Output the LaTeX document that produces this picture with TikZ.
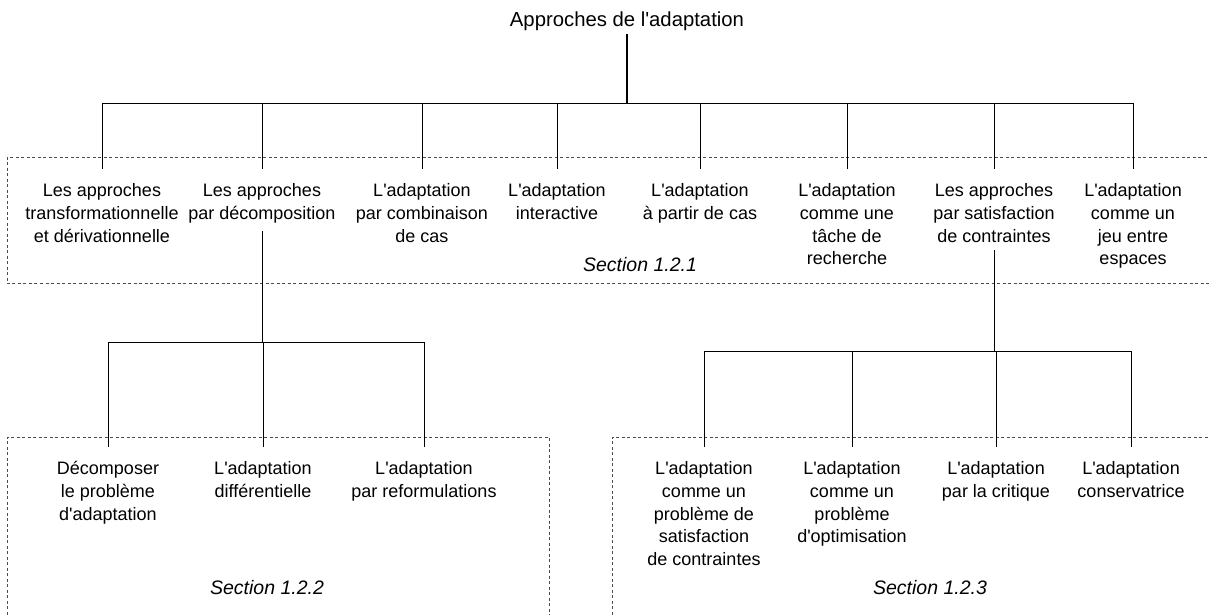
\documentclass[tikz,border=0pt]{standalone}
\usepackage{fontspec}
\newfontfamily\labelfont{Liberation Sans}
\usetikzlibrary{math}
\tikzset{%
  approach/.style={anchor=north, align=center, inner xsep=0pt, inner ysep=14pt,
    font=\labelfont\fontsize{18}{22.9}\selectfont},
  heading/.style={font=\labelfont\fontsize{20.3}{24}\selectfont},
  section label/.style={font=\labelfont\itshape\fontsize{19.5}{23}\selectfont},
  link/.style={line width=0.9pt},
  section box/.style={line width=0.9pt, color=black!70, dash pattern=on 3pt off 2.5pt}
}

\begin{document}
\begin{tikzpicture}[x=1pt,y=-1pt]
    \tikzmath{
      \ybus=103;% main bus
      \yleft=342; \yright=351;% lower buses
      \ytop=169; \ylow=447;% top of the nodes
    }
    \useasboundingbox (0,0) rectangle (1209,614);
    % Dashed frames of the sections.
    \draw[section box] (1212,157) -- (7,157) -- (7,283) -- (1212,283);
    \draw[section box] (7,620) -- (7,437) -- (549,437) -- (549,620);
    \draw[section box] (612,620) -- (612,437) -- (1212,437);
    % Root.
    \node[heading] (root) at (627,21) {Approches de l'adaptation};
    % Section 1.2.1.
    \node[approach] (transfo) at (102,\ytop) {Les approches\\transformationnelle\\et dérivationnelle};
    \node[approach] (decomp) at (262,\ytop) {Les approches\\par décomposition};
    \node[approach] (combin) at (422,\ytop) {L'adaptation\\par combinaison\\de cas};
    \node[approach] (interact) at (557,\ytop) {L'adaptation\\interactive};
    \node[approach] (fromcase) at (700,\ytop) {L'adaptation\\à partir de cas};
    \node[approach] (search) at (847,\ytop) {L'adaptation\\comme une\\tâche de\\recherche};
    \node[approach] (satisf) at (994,\ytop) {Les approches\\par satisfaction\\de contraintes};
    \node[approach] (game) at (1133,\ytop) {L'adaptation\\comme un\\jeu entre\\espaces};
    \node[section label] (sec1) at (640,265) {Section 1.2.1};
    % Section 1.2.2.
    \node[approach] (split) at (108,\ylow) {Décomposer\\le problème\\d'adaptation};
    \node[approach] (diff) at (263,\ylow) {L'adaptation\\différentielle};
    \node[approach] (reform) at (424,\ylow) {L'adaptation\\par reformulations};
    \node[section label] (sec2) at (267,588) {Section 1.2.2};
    % Section 1.2.3.
    \node[approach] (csp) at (704,\ylow) {L'adaptation\\comme un\\problème de\\satisfaction\\de contraintes};
    \node[approach] (optim) at (852,\ylow) {L'adaptation\\comme un\\problème\\d'optimisation};
    \node[approach] (critic) at (996,\ylow) {L'adaptation\\par la critique};
    \node[approach] (conserv) at (1131,\ylow) {L'adaptation\\conservatrice};
    \node[section label] (sec3) at (930,588) {Section 1.2.3};
    % Tree links.
    \coordinate (bus) at (root.south |- 0,\ybus);
    \draw[line width=2.2pt] (root.south) -- (bus);
    \foreach \n in {transfo,decomp,combin,interact,fromcase,search,satisf,game}
      \draw[link] (bus) -| (\n.north);
    \coordinate (busl) at (decomp.south |- 0,\yleft);
    \draw[link] ([yshift=6pt]decomp.south) -- (busl);
    \foreach \n in {split,diff,reform}
      \draw[link] (busl) -| (\n.north);
    \coordinate (busr) at (satisf.south |- 0,\yright);
    \draw[link] ([yshift=6pt]satisf.south) -- (busr);
    \foreach \n in {csp,optim,critic,conserv}
      \draw[link] (busr) -| (\n.north);
\end{tikzpicture}
\end{document}
